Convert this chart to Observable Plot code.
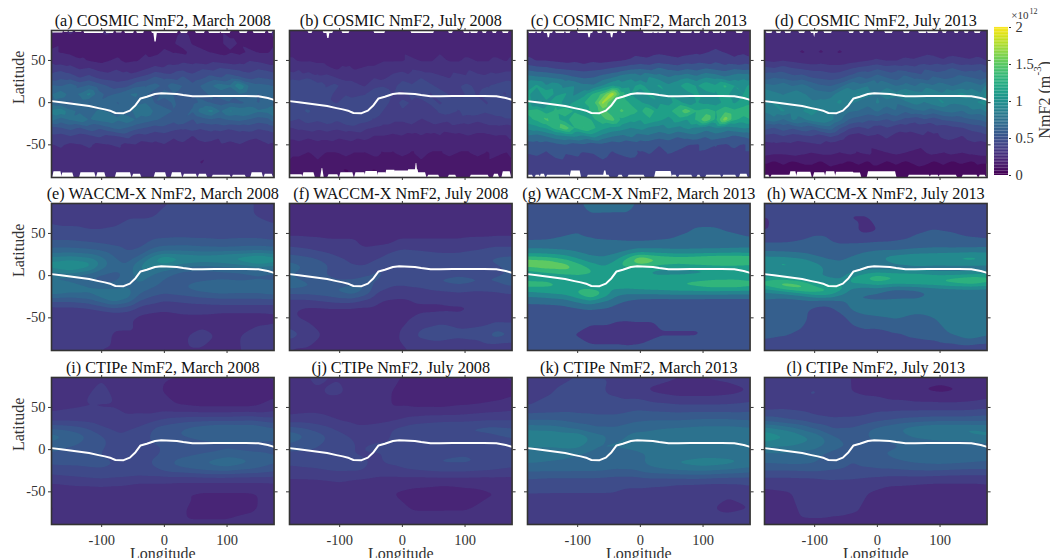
<!DOCTYPE html>
<html><head><meta charset="utf-8">
<script src="https://cdn.jsdelivr.net/npm/d3@7"></script>
<script src="https://cdn.jsdelivr.net/npm/@observablehq/plot@0.6"></script>
<style>html,body{margin:0;padding:0;background:#fff}#c{position:relative;width:1050px;height:558px;overflow:hidden}#c>svg{position:absolute}</style>
</head><body><div id="c"></div>
<script>
const titles=["(a) COSMIC NmF2, March 2008","(b) COSMIC NmF2, July 2008","(c) COSMIC NmF2, March 2013","(d) COSMIC NmF2, July 2013","(e) WACCM-X NmF2, March 2008","(f) WACCM-X NmF2, July 2008","(g) WACCM-X NmF2, March 2013","(h) WACCM-X NmF2, July 2013","(i) CTIPe NmF2, March 2008","(j) CTIPe NmF2, July 2008","(k) CTIPe NmF2, March 2013","(l) CTIPe NmF2, July 2013"];
const cosmicLon=[-180,-165,-150,-135,-120,-105,-90,-75,-60,-45,-30,-15,0,15,30,45,60,75,90,105,120,135,150,165,175];
const cosmicLat=[87,70,60,50,40,30,20,10,0,-10,-20,-30,-40,-50,-60,-70,-80,-90];
const waccmLon=[-180,-150,-120,-100,-80,-60,-40,-20,0,30,60,90,120,150,175];
const waccmLat=[87,70,50,40,30,25,20,15,10,5,0,-5,-10,-15,-20,-25,-30,-40,-50,-70,-90];
const ctipeLon=[-180,-140,-100,-70,-40,-10,20,60,100,140,175];
const ctipeLat=[87,70,50,35,25,15,5,-5,-15,-25,-35,-50,-70,-90];
// NmF2 in units of 1e10 m^-3, rows run north to south
const cosmicMar08=[
[22,20,22,20,18,20,22,20,18,20,18,18,20,18,20,18,18,20,20,18,18,20,18,20,22],
[18,20,18,20,16,18,18,20,18,18,20,20,18,20,24,20,18,18,20,22,20,18,20,18,20],
[22,20,18,16,18,16,18,18,16,18,20,18,22,20,18,24,22,20,18,20,18,22,20,20,22],
[28,24,26,22,20,18,20,22,18,20,22,24,26,24,28,26,24,28,26,24,26,30,28,24,26],
[36,38,34,30,32,28,26,30,28,24,30,34,32,36,38,36,40,38,42,40,38,36,40,38,36],
[44,48,46,40,44,38,36,34,36,40,44,52,48,46,52,44,48,54,50,56,52,46,50,48,46],
[62,60,66,58,62,56,50,46,48,58,60,64,58,66,60,54,62,70,76,72,90,70,64,62,60],
[70,78,66,72,84,64,58,62,70,72,62,56,64,60,56,60,58,62,66,62,70,64,60,66,68],
[66,62,58,64,60,62,68,60,66,68,70,60,56,62,54,58,62,60,56,60,58,62,60,64,62],
[84,88,74,68,66,72,70,66,62,76,80,68,64,60,56,62,76,84,70,82,78,80,72,74,80],
[74,66,72,78,70,74,76,72,78,70,66,62,58,54,60,50,56,60,58,62,64,60,56,58,66],
[46,50,54,50,56,52,58,64,60,54,50,46,48,44,42,46,42,44,46,42,44,46,42,44,46],
[38,36,40,36,38,42,38,40,44,36,38,34,36,32,36,30,34,36,32,34,36,34,32,34,36],
[30,32,28,30,32,28,30,32,28,30,26,28,30,26,28,26,28,26,30,28,30,26,28,30,28],
[26,28,30,26,28,26,24,26,28,24,26,28,24,26,24,28,24,22,26,24,26,28,24,26,26],
[24,26,22,24,22,24,26,24,22,24,22,24,26,22,24,22,20,24,22,24,22,24,22,24,24],
[24,24,26,24,24,22,24,24,22,24,24,22,24,24,22,24,22,22,24,22,24,22,24,24,24],
[24,24,24,24,24,24,24,24,24,24,24,24,24,24,24,24,24,24,24,24,24,24,24,24,24]];
const cosmicJul08=[
[22,24,22,24,22,24,22,22,24,22,24,24,22,24,22,24,22,24,22,24,22,24,22,24,22],
[22,22,24,22,22,20,22,22,22,22,24,22,22,24,22,22,24,22,24,22,22,24,22,22,24],
[22,22,20,22,22,20,20,22,22,20,22,22,24,22,20,22,24,22,22,22,24,22,22,22,22],
[26,24,24,22,22,22,20,22,20,22,24,24,24,26,24,24,26,24,24,26,24,24,26,24,26],
[30,32,28,30,26,24,26,24,26,26,28,28,30,32,30,30,28,30,28,32,28,30,28,30,30],
[38,36,40,34,36,32,30,30,28,32,30,36,38,34,40,36,34,32,36,34,36,34,36,38,38],
[44,48,42,44,40,42,36,34,32,38,40,38,44,42,48,42,38,36,40,42,38,40,42,44,42],
[44,42,46,42,44,38,40,38,40,46,44,40,38,42,44,40,44,40,38,42,40,44,42,40,46],
[46,44,42,46,42,40,44,46,44,40,44,38,42,40,38,42,40,42,46,44,42,40,44,46,44],
[44,46,50,44,48,46,48,44,42,46,40,38,40,38,40,36,42,44,40,44,46,42,44,44,48],
[42,40,44,42,46,42,48,46,44,40,36,34,34,36,32,34,36,34,38,36,34,36,38,40,40],
[32,34,36,34,36,34,36,38,34,32,30,30,28,30,28,30,28,30,28,30,28,30,30,28,30],
[26,28,26,28,28,26,28,26,28,24,24,22,24,22,24,22,24,20,22,24,22,22,24,24,26],
[22,22,20,22,20,22,20,22,20,18,20,18,20,18,18,20,18,18,20,18,20,18,20,22,20],
[18,18,16,18,16,16,18,16,16,18,16,16,18,16,18,16,16,18,16,16,18,16,18,16,18],
[16,14,14,16,14,12,14,12,14,14,14,12,14,14,16,14,12,14,14,12,14,16,14,14,16],
[12,12,10,10,10,10,8,10,10,8,10,10,12,10,10,10,12,10,12,10,12,10,12,12,12],
[12,12,10,10,10,10,10,10,10,10,10,10,10,10,10,10,10,10,10,10,10,10,10,10,12]];
const cosmicMar13=[
[26,28,26,28,26,24,28,26,28,26,28,24,26,28,26,28,26,24,28,26,28,26,28,26,28],
[24,26,28,24,26,24,26,28,24,24,26,28,26,28,24,26,28,26,24,26,28,26,24,26,26],
[26,24,22,24,22,24,22,24,26,24,22,26,24,26,28,26,24,26,28,30,32,30,26,28,26],
[34,30,30,28,26,28,24,28,26,28,30,32,36,34,38,36,34,38,40,36,42,36,34,38,34],
[56,52,50,46,44,42,40,42,44,48,52,58,60,56,64,58,54,60,56,62,58,54,60,56,58],
[82,78,76,72,68,62,58,60,68,74,84,88,80,92,84,76,82,88,80,90,86,78,84,88,84],
[98,108,92,100,86,90,80,78,92,106,96,100,112,96,108,94,102,116,104,118,108,124,106,100,110],
[110,94,118,102,108,88,100,124,140,176,128,106,94,110,92,104,92,100,108,98,104,112,96,106,118],
[112,88,100,118,98,108,120,130,170,134,130,118,108,96,104,100,112,98,106,102,98,110,104,112,116],
[124,130,112,124,136,118,110,128,142,126,138,128,118,132,108,116,130,144,122,128,120,132,124,130,136],
[116,124,138,126,112,134,128,118,132,142,118,110,106,118,110,100,114,106,124,150,118,160,124,114,120],
[94,100,108,128,146,120,136,124,110,102,98,90,96,88,84,92,86,94,88,82,90,84,88,92,90],
[72,68,76,84,88,92,86,96,84,76,72,78,68,72,66,70,62,66,70,62,68,64,58,62,66],
[52,54,50,56,60,54,58,52,56,50,54,48,52,50,46,50,48,46,44,50,46,44,48,44,50],
[46,48,44,50,46,48,44,46,50,44,48,50,44,46,42,46,44,40,44,42,44,40,42,44,44],
[42,40,44,42,44,40,42,38,44,40,38,42,40,38,42,36,40,42,38,36,40,42,38,40,40],
[40,42,38,40,42,38,40,42,38,40,38,40,38,40,36,38,36,38,36,38,36,38,38,36,38],
[38,38,38,38,38,38,38,38,38,38,36,36,36,36,36,36,36,36,36,36,36,36,36,36,36]];
const cosmicJul13=[
[24,26,24,26,24,26,24,24,26,24,26,24,26,24,26,24,26,24,26,24,24,26,24,26,24],
[24,26,28,24,22,24,22,24,22,24,22,24,24,22,24,26,24,26,28,26,24,26,24,26,24],
[22,26,24,22,20,22,20,22,20,22,22,24,24,22,22,24,26,28,26,24,26,24,26,24,24],
[30,28,30,28,26,24,26,24,24,26,28,30,32,30,30,34,32,34,36,32,36,34,32,34,30],
[44,42,46,42,40,38,38,36,36,40,44,46,50,46,48,46,44,50,46,48,52,46,48,50,46],
[56,60,58,54,56,50,48,46,48,54,62,58,66,60,56,64,58,54,62,58,60,64,60,56,60],
[76,72,78,70,74,68,62,60,66,78,74,80,72,78,70,74,70,78,72,76,70,74,78,72,84],
[88,84,80,86,82,78,76,74,88,86,92,84,80,88,84,92,86,84,90,82,88,94,86,82,98],
[86,92,84,88,86,82,84,88,92,84,78,74,82,76,72,78,84,80,86,92,82,84,88,92,96],
[82,86,92,84,90,96,88,84,82,72,70,66,72,64,70,62,68,70,66,72,74,70,78,76,84],
[72,78,70,82,78,86,90,84,74,60,56,52,54,50,54,48,44,50,46,52,54,56,60,62,66],
[54,50,56,52,58,54,62,66,52,42,38,42,36,40,34,36,34,32,36,34,38,40,44,46,50],
[38,36,40,36,38,40,36,42,36,28,26,30,28,32,28,26,28,30,28,32,34,30,34,36,38],
[26,28,26,28,26,28,30,26,24,22,24,22,24,26,24,26,24,22,24,26,24,26,28,26,28],
[24,22,22,24,22,20,22,22,20,22,20,22,18,20,22,20,18,20,22,20,22,20,22,24,24],
[12,10,12,10,12,12,10,14,12,10,12,10,14,10,12,10,12,14,10,12,10,12,10,12,12],
[6,6,8,6,6,8,6,8,6,6,8,6,6,6,8,6,8,6,6,8,6,6,8,6,6],
[6,6,6,6,6,6,6,6,6,6,6,6,6,6,6,6,6,6,6,6,6,6,6,6,6]];
const waccmMar08=[
[38,38,36,36,38,40,38,38,40,42,42,42,42,40,38],
[38,36,36,36,38,40,40,40,42,42,44,44,42,40,38],
[44,44,42,42,42,42,44,46,46,46,46,46,46,46,44],
[52,52,50,48,46,46,46,52,54,56,54,52,54,54,52],
[64,64,62,60,56,50,52,62,68,68,66,66,66,68,66],
[74,76,72,66,58,52,58,74,84,80,78,80,84,88,82],
[86,88,84,74,62,56,66,88,104,96,92,94,100,108,100],
[94,98,94,78,64,60,76,92,96,84,78,80,86,96,90],
[94,102,94,76,64,62,82,84,80,68,66,68,72,78,76],
[84,90,80,66,60,62,80,76,68,60,58,60,62,66,64],
[68,70,62,58,58,62,76,70,62,54,54,56,56,58,56],
[68,66,60,56,58,64,74,66,60,56,58,60,58,60,58],
[80,74,68,62,62,68,70,64,58,60,66,68,66,66,68],
[84,76,72,70,68,72,66,60,56,60,66,70,68,68,72],
[76,72,72,76,78,78,62,56,52,56,60,64,62,62,66],
[64,62,66,74,84,76,58,50,46,48,52,54,54,54,56],
[52,52,56,64,74,66,50,44,40,42,44,46,46,46,46],
[36,36,38,42,46,44,36,34,32,34,34,34,34,34,34],
[30,32,32,32,32,32,28,26,26,28,28,26,26,26,28],
[40,36,34,32,30,30,30,28,28,30,32,30,30,36,36],
[34,32,32,30,30,30,30,30,30,30,30,30,30,30,30]];
const waccmJul08=[
[28,28,28,28,28,28,28,28,28,28,26,26,26,28,28],
[28,28,28,26,26,26,26,26,26,26,24,24,24,26,28],
[28,28,28,28,28,28,28,28,28,28,28,28,28,28,28],
[36,34,32,32,32,28,28,28,32,32,32,32,34,36,36],
[44,42,38,36,34,32,34,38,42,40,38,38,40,44,44],
[50,46,42,38,36,34,36,42,46,44,42,42,46,48,48],
[58,54,46,42,38,36,40,46,52,48,46,46,50,52,54],
[62,58,50,44,40,38,44,50,52,46,44,44,48,52,56],
[64,60,52,44,42,42,48,50,48,44,42,44,44,48,54],
[62,58,50,44,44,46,52,48,46,44,44,46,46,48,52],
[60,56,50,46,46,50,52,48,44,46,48,50,48,50,52],
[64,58,54,50,50,54,52,46,44,48,52,54,52,52,56],
[66,62,58,56,58,58,48,42,42,44,50,52,50,50,54],
[62,60,60,62,68,62,44,40,38,40,44,46,44,44,48],
[54,54,56,62,66,58,40,36,36,36,38,40,38,40,42],
[44,46,50,54,56,48,36,34,32,34,34,36,34,36,38],
[38,38,42,44,44,38,32,28,28,32,32,34,34,34,34],
[32,28,28,28,28,28,28,28,28,28,28,28,32,32,32],
[32,28,28,26,26,26,26,26,28,34,36,34,34,36,36],
[46,38,28,28,26,26,26,26,32,44,48,44,46,56,52],
[28,28,28,28,28,28,28,28,28,28,28,28,28,28,28]];
const waccmMar13=[
[58,58,58,60,62,62,62,62,60,58,56,54,52,50,50],
[52,54,58,60,60,60,60,60,58,56,56,58,58,54,50],
[46,50,58,60,56,50,46,44,46,50,58,62,62,60,56],
[64,64,66,66,66,66,66,64,62,64,66,68,68,68,66],
[84,84,80,76,70,70,72,76,84,84,82,82,82,84,86],
[104,102,96,86,78,76,82,100,116,106,100,100,104,106,104],
[140,132,116,100,88,84,94,130,172,150,144,150,156,158,150],
[164,162,142,118,100,92,108,140,156,134,126,132,136,138,134],
[142,154,158,140,118,102,110,118,114,104,102,104,108,108,106],
[112,124,136,140,128,110,112,104,98,92,92,94,96,96,94],
[98,102,108,116,118,106,116,108,104,100,100,102,104,104,100],
[118,118,110,104,104,104,120,116,112,112,116,118,120,122,118],
[136,130,118,106,96,100,116,112,112,118,124,132,142,142,134],
[116,118,116,110,104,108,102,104,108,110,114,116,118,118,114],
[96,104,112,130,166,128,92,86,88,90,92,92,92,90,90],
[80,84,92,108,128,104,80,70,68,68,70,70,68,68,68],
[66,68,72,84,96,82,68,58,52,50,50,50,50,50,50],
[50,50,52,56,60,58,52,48,44,42,42,42,42,42,42],
[44,42,42,44,44,44,42,42,42,42,42,42,42,42,42],
[46,42,40,40,36,36,36,34,36,40,40,40,42,42,42],
[44,44,44,44,44,44,44,44,44,44,44,44,44,44,44]];
const waccmJul13=[
[40,40,40,36,36,34,36,38,38,38,40,40,42,44,46],
[34,36,40,40,40,36,34,34,36,40,42,44,44,44,44],
[34,38,44,50,50,42,36,32,34,40,50,54,52,48,44],
[50,50,54,56,54,50,50,50,52,54,58,60,58,56,56],
[66,66,64,62,58,58,62,66,68,66,70,72,72,74,76],
[76,74,70,66,62,62,66,72,78,84,90,90,94,96,92],
[96,94,84,74,68,66,72,80,84,100,106,112,112,116,108],
[106,108,104,86,74,70,76,76,78,88,92,92,94,94,94],
[98,104,108,100,82,74,74,74,74,76,78,76,76,76,74],
[88,90,92,92,84,74,82,84,88,84,84,80,78,78,78],
[90,82,82,84,84,76,100,118,134,126,118,108,106,112,118],
[118,124,108,90,88,86,112,122,130,120,128,126,136,146,130],
[132,156,140,114,96,102,104,104,112,106,108,112,120,126,118],
[104,130,150,130,122,116,86,76,80,68,70,78,82,84,82],
[84,90,108,128,128,100,72,70,68,56,60,70,72,74,72],
[74,70,76,86,90,76,66,66,64,64,68,72,74,76,74],
[64,62,64,66,60,66,70,70,70,74,70,74,80,82,80],
[66,56,56,46,46,56,72,76,78,80,76,76,80,84,82],
[50,62,58,44,40,44,58,64,66,70,62,68,78,78,76],
[58,54,48,44,38,38,44,46,44,50,56,60,70,80,72],
[34,34,34,34,34,34,34,34,34,34,34,34,34,34,34]];
const ctipeMar08=[
[30,30,32,30,30,28,26,24,24,24,26],
[24,30,34,30,28,26,18,16,16,18,22],
[30,32,32,32,30,28,26,24,24,24,28],
[38,38,36,34,36,40,44,46,46,48,44],
[56,52,42,38,42,52,56,62,66,64,58],
[70,62,50,42,46,52,56,60,64,62,60],
[60,56,50,44,50,48,50,52,54,52,52],
[56,52,48,46,46,48,52,56,60,58,56],
[50,50,50,48,46,50,60,66,72,66,58],
[44,46,48,48,46,48,52,56,58,54,50],
[36,38,40,38,36,36,36,36,36,36,36],
[26,28,28,28,26,26,24,24,24,24,26],
[24,26,28,28,28,30,26,22,22,24,26],
[26,28,28,28,26,26,26,26,26,26,26]];
const ctipeJul08=[
[30,34,32,30,28,26,24,22,22,24,26],
[26,32,34,28,26,24,18,16,15,18,22],
[28,30,28,26,26,24,24,24,26,28,30],
[36,36,32,30,30,32,36,38,38,40,40],
[52,46,38,34,36,42,46,48,50,52,50],
[64,54,44,38,38,42,44,46,46,46,50],
[54,50,44,40,42,42,42,42,44,42,44],
[46,46,42,40,40,42,44,46,48,46,46],
[42,42,42,42,40,42,46,50,50,48,44],
[38,40,42,42,38,38,40,42,42,40,38],
[32,32,34,32,30,30,30,30,30,30,30],
[26,28,28,26,26,24,22,20,22,24,26],
[30,28,28,28,28,26,24,24,24,26,26],
[28,28,28,28,28,28,28,28,28,28,28]];
const ctipeMar13=[
[38,40,40,40,40,38,36,32,32,34,36],
[28,40,46,42,38,34,28,24,24,26,30],
[42,44,46,46,46,48,46,44,44,44,46],
[60,60,56,54,54,58,60,60,62,62,60],
[78,76,68,62,62,68,70,72,74,74,72],
[92,92,92,76,68,74,74,78,80,82,82],
[82,82,86,70,72,74,70,70,72,72,72],
[76,74,70,70,66,68,72,72,74,74,72],
[72,70,68,68,64,66,76,84,88,86,80],
[62,62,62,62,60,60,66,70,72,68,64],
[50,48,48,48,46,46,48,48,48,46,46],
[40,40,40,40,40,38,36,32,30,32,36],
[40,40,40,40,40,38,36,32,32,28,30],
[40,40,40,40,40,40,38,38,38,38,38]];
const ctipeJul13=[
[34,36,34,32,30,28,26,26,24,26,28],
[30,36,42,36,30,28,24,20,18,20,24],
[36,38,36,34,36,36,36,36,36,36,38],
[56,50,44,42,42,46,50,54,56,56,58],
[86,76,60,50,52,62,68,78,84,84,80],
[100,92,80,62,56,62,64,72,76,76,82],
[84,82,78,64,60,58,58,62,64,64,66],
[68,68,62,58,54,58,62,66,68,68,66],
[62,64,62,56,50,54,58,62,64,62,60],
[50,50,52,50,48,48,48,50,50,48,48],
[38,38,38,40,40,38,36,36,34,34,34],
[28,30,36,36,34,30,26,24,24,24,26],
[24,28,36,34,32,28,28,26,26,26,26],
[24,26,26,26,26,26,26,26,26,26,26]];
// contour spacing used by each panel
const levelStep=[0.1,0.08,0.15,0.1, 0.1,0.1,0.2,0.17, 0.08,0.08,0.1,0.1];
// magnetic equator [longitude, latitude]
const dipLon=[-180,-165,-150,-135,-120,-105,-95,-85,-78,-65,-55,-46,-38,-28,-15,-5,20,30,45,60,80,100,130,150,165,175];
const dipLat=[1.8,0.5,-1,-2.5,-4,-6.5,-8,-10,-12.3,-12.5,-9.5,-3,5,7,10.3,11,10.3,9,7.5,7.5,8,8,8,7.5,5.5,3.3];
// missing-data gaps at the poles of the COSMIC maps [lon start, lon end, lat reached]
const gapsTop=[
[[-178,-162,82.5],[-159,-154,83],[-151,-146,83],[-141,-132,83],[-127,-97,82],[-92,-81,82],[-76,-68,82.5],[-62,-49,82],[-43,-33,82],[-19,21,82],[-15,-13,72],[27,37,82],[51,64,82],[72,89,82],[91,105,82],[121,132,82],[143,161,82],[167,172,82]],
[[-149,-144,82],[-125,-111,82],[-119,-117,76],[-95,-85,82],[-44,-28,82],[15,50,82],[75,80,82],[99,107,82],[110,120,82],[129,134,82],[145,150,82],[161,169,82]],
[[-177,-167,82],[-164,-158,82],[-153,-140,82],[-147,-145,77],[-134,-121,82],[-118,-112,82],[-99,-76,82],[-82,-80,77],[-67,-61,82],[-53,-37,82],[-46,-44,77],[-29,-24,82],[6,20,82],[22,28,82],[30,41,82],[47,57,82],[65,82,82],[87,95,82],[103,109,82],[117,127,82],[130,136,82],[154,163,82]],
[[-176,-168,82],[-160,-154,82],[-146,-138,82],[-124,-116,82],[-105,-95,82],[-100,-100,77],[-84,-73,82],[-44,-38,82],[-27,-22,82],[-11,-6,82],[13,24,82],[43,51,82],[67,78,82],[81,97,82],[105,110,82],[124,129,82],[140,145,82],[156,164,82]]];
const gapsBottom=[
[[-176,-165,-82],[-162,-146,-83.5],[-133,-111,-83],[-106,-95,-83],[-76,-54,-83],[-49,-38,-85],[-14,2,-83],[13,27,-83],[32,51,-85],[56,67,-85],[78,105,-86],[110,129,-86],[140,156,-83],[161,172,-85]],
[[-180,-160,-85.5],[-157,-141,-83],[-128,-127,-78],[-117,-103,-85.5],[-98,-79,-83],[-74,-60,-83],[-58,-40,-81.5],[-38,-26,-83],[-25,-12,-80],[-12,10,-81],[10,25,-79.5],[22,23,-72],[23,37,-83],[42,58,-86],[75,85,-86],[110,137,-86],[147,153,-85],[161,172,-82]],
[[-180,-172,-86],[-166,-161,-86],[-158,-153,-85],[-148,-113,-86],[-110,-96,-81],[-83,-50,-86],[-57,-55,-81],[-34,-29,-86],[-18,6,-86],[25,49,-81.5],[52,57,-86],[63,82,-86],[92,95,-86],[106,128,-86],[133,152,-86],[160,170,-85]],
[[-178,-173,-86],[-168,-138,-86],[-138,-130,-82],[-127,-106,-82.5],[-100,-84,-83],[-81,-68,-82],[-65,-38,-82.5],[-38,-27,-83.5],[-14,29,-82],[51,83,-86],[86,97,-86],[100,126,-86],[137,159,-86],[164,172,-86]]];
const grids=[
[cosmicMar08,cosmicLon,cosmicLat],[cosmicJul08,cosmicLon,cosmicLat],[cosmicMar13,cosmicLon,cosmicLat],[cosmicJul13,cosmicLon,cosmicLat],
[waccmMar08,waccmLon,waccmLat],[waccmJul08,waccmLon,waccmLat],[waccmMar13,waccmLon,waccmLat],[waccmJul13,waccmLon,waccmLat],
[ctipeMar08,ctipeLon,ctipeLat],[ctipeJul08,ctipeLon,ctipeLat],[ctipeMar13,ctipeLon,ctipeLat],[ctipeJul13,ctipeLon,ctipeLat]];
const lonTicks=[-100,0,100], latTicks=[-50,0,50];
const colLeft=[51.4,289,526.6,763.8], rowTop=[30,203,377];
const panelW=222.6, panelH=147;
const serif="Liberation Serif, Times New Roman, serif", ink="#333";
const LON=[-180,175], LAT=[-88.7,85.5];
const dip=dipLon.map((x,i)=>({x,y:dipLat[i]}));
const host=document.getElementById("c");
function gapArea(list,edge){
  const rows=list.flatMap(([a,b,lat],g)=>[{x:a-2.5,y:edge,g},{x:a,y:lat,g},{x:b,y:lat,g},{x:b+2.5,y:edge,g}]);
  return Plot.area(rows,{x1:"x",y1:()=>edge,y2:"y",z:"g",fill:"white",clip:true});
}
const M={l:52,r:8,t:28,b:34};
titles.forEach((title,i)=>{
  const r=Math.floor(i/4), c=i%4, step=levelStep[i];
  const [vals,lons,lats]=grids[i];
  const pts=vals.flatMap((row,j)=>row.map((v,k)=>({lon:lons[k],lat:lats[j],v:v/100})));
  const marks=[
    Plot.contour(pts,{x:"lon",y:"lat",fill:"v",interpolate:"barycentric",thresholds:d3.range(0.005,2,step),pixelSize:1,blur:r===0?0:2.5,clip:true}),
  ];
  if(r===0) marks.push(gapArea(gapsTop[c],LAT[1]+1),gapArea(gapsBottom[c],LAT[0]-1));
  marks.push(
    Plot.line(dip,{x:"x",y:"y",stroke:"white",strokeWidth:2}),
    Plot.frame({stroke:ink,strokeWidth:1.6}),
    Plot.axisX({anchor:"top",ticks:lonTicks,tickSize:3,label:null,stroke:ink,tickFormat:()=>""}),
    Plot.axisY({anchor:"right",ticks:latTicks,tickSize:3,label:null,stroke:ink,tickFormat:()=>""}),
    Plot.axisX({anchor:"bottom",ticks:lonTicks,tickSize:3,tickPadding:7,label:null,stroke:ink,fill:ink,fontSize:14.5,tickFormat:r===2?(d=>String(d)):()=>""}),
    Plot.axisY({anchor:"left",ticks:latTicks,tickSize:3,tickPadding:3,label:null,stroke:ink,fill:ink,fontSize:14.5,tickFormat:c===0?(d=>String(d)):()=>""}),
    Plot.text([title],{frameAnchor:"top",dy:-4,lineAnchor:"bottom",fontSize:16.2,fill:"#111"})
  );
  if(c===0) marks.push(Plot.text(["Latitude"],{frameAnchor:"left",rotate:-90,dx:-33,fontSize:16,fill:ink}));
  if(r===2) marks.push(Plot.text(["Longitude"],{frameAnchor:"bottom",dy:29,lineAnchor:"middle",fontSize:16,fill:ink}));
  const svg=Plot.plot({
    width:M.l+panelW+M.r,height:M.t+panelH+M.b,
    marginLeft:M.l,marginRight:M.r,marginTop:M.t,marginBottom:M.b,
    x:{domain:LON,axis:null},y:{domain:LAT,axis:null},
    color:{type:"linear",scheme:"viridis",domain:[-step/2,2-step/2]},
    style:{background:"transparent",overflow:"visible",fontFamily:serif,maxWidth:"none"},
    marks
  });
  svg.style.left=(colLeft[c]-M.l)+"px";
  svg.style.top=(rowTop[r]-M.t)+"px";
  host.appendChild(svg);
});
// colour bar
const barValues=d3.range(0,2,0.02);
const barTicks=[0,0.5,1,1.5,2];
const bar=Plot.plot({
  width:64,height:175,marginLeft:8,marginRight:42,marginTop:17,marginBottom:10,
  x:{domain:[0,1],axis:null},y:{domain:[0,2],axis:null},
  color:{type:"linear",scheme:"viridis",domain:[0,2]},
  style:{background:"transparent",overflow:"visible",fontFamily:serif,maxWidth:"none"},
  marks:[
    Plot.rect(barValues,{x1:0,x2:1,y1:d=>d,y2:d=>d+0.021,fill:d=>d}),
    Plot.axisY({anchor:"right",ticks:barTicks,tickSize:2,tickPadding:5,label:null,stroke:ink,fill:ink,fontSize:14.5,tickFormat:d=>String(d)}),
    Plot.text(["×10"],{frameAnchor:"top-right",dx:20,dy:-16,textAnchor:"end",fontSize:11,fill:ink}),
    Plot.text(["12"],{frameAnchor:"top-right",dx:29,dy:-19,textAnchor:"end",fontSize:8,fill:ink}),
    Plot.text(["NmF2 (m"],{frameAnchor:"right",rotate:-90,dx:36,dy:37,textAnchor:"start",fontSize:16,fill:ink}),
    Plot.text(["-3"],{frameAnchor:"right",rotate:-90,dx:29,dy:-26,textAnchor:"start",fontSize:11,fill:ink}),
    Plot.text([")"],{frameAnchor:"right",rotate:-90,dx:36,dy:-35,textAnchor:"start",fontSize:16,fill:ink})
  ]
});
bar.style.left=(994-8)+"px";
bar.style.top=(27-17)+"px";
host.appendChild(bar);
</script></body></html>
